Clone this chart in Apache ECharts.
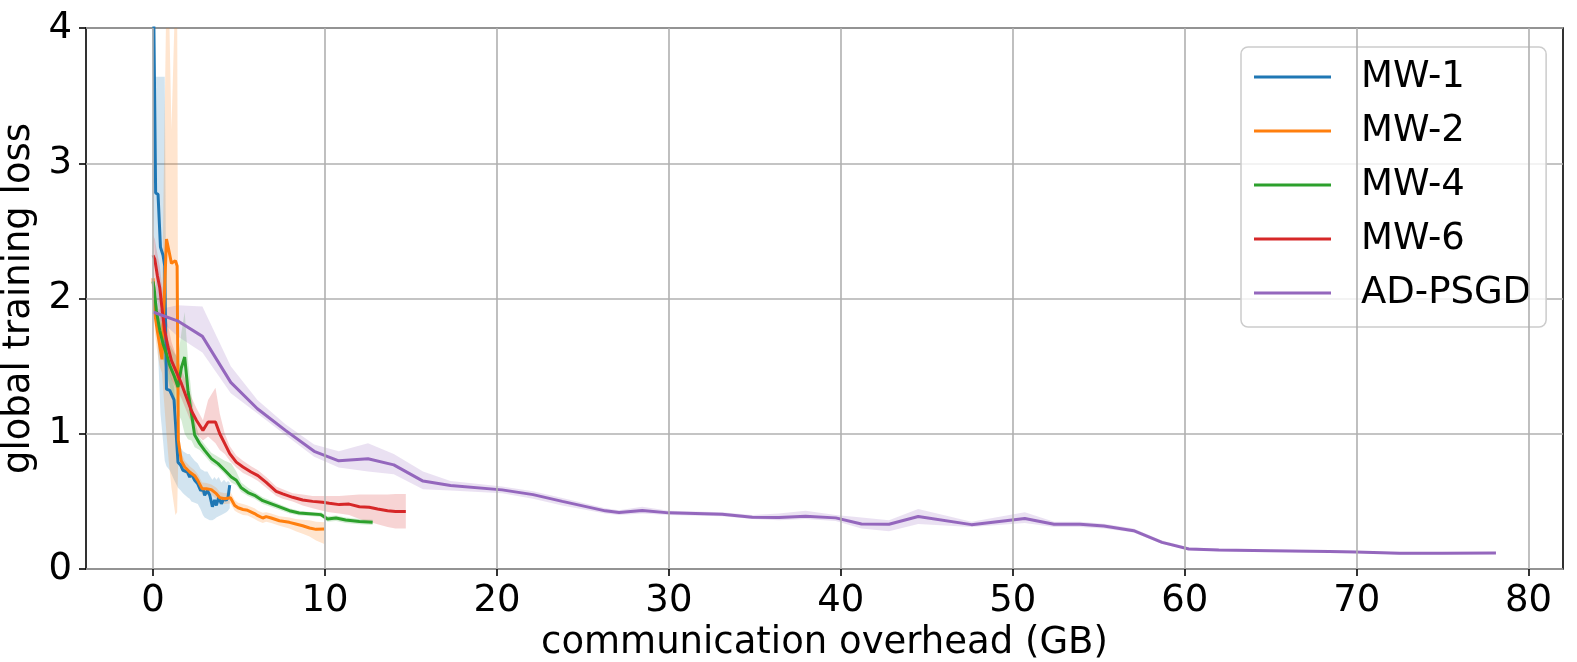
<!DOCTYPE html>
<html>
<head>
<meta charset="utf-8">
<script src="https://cdn.jsdelivr.net/npm/echarts@6/dist/echarts.min.js"></script>
<style>
  html, body { margin: 0; padding: 0; background: #fff; }
  #chart { width: 1577px; height: 662px; }
</style>
</head>
<body>
<div id="chart"></div>
<script>
// tick labels
const xTicks = [0, 10, 20, 30, 40, 50, 60, 70, 80];
const yTicks = [0, 1, 2, 3, 4];

// MW-1
const mw1X = [0, 0.15, 0.29, 0.43, 0.58, 0.68, 0.78, 0.97, 1.22, 1.45, 1.61, 1.74, 2.0, 2.13, 2.23, 2.42, 2.6, 2.77, 2.9, 3.0, 3.16, 3.3, 3.45, 3.58, 3.68, 3.82, 3.97, 4.13, 4.26, 4.36, 4.46];
const mw1Y = [4.6, 2.78, 2.77, 2.38, 2.32, 2.24, 1.33, 1.32, 1.25, 0.79, 0.767, 0.73, 0.717, 0.68, 0.705, 0.656, 0.63, 0.58, 0.594, 0.545, 0.58, 0.545, 0.46, 0.51, 0.47, 0.53, 0.483, 0.52, 0.508, 0.53, 0.62];
const mw1Hi = [3.64, 3.64, 3.64, 3.64, 3.64, 3.64, 1.6, 1.45, 1.35, 0.95, 0.9, 0.87, 0.85, 0.85, 0.83, 0.8, 0.78, 0.74, 0.73, 0.72, 0.72, 0.69, 0.66, 0.68, 0.66, 0.68, 0.64, 0.66, 0.64, 0.65, 0.64];
const mw1Lo = [2.6, 2.2, 1.6, 1.15, 0.95, 0.8, 0.76, 0.73, 0.66, 0.6, 0.58, 0.56, 0.53, 0.52, 0.5, 0.49, 0.48, 0.44, 0.4, 0.38, 0.37, 0.36, 0.36, 0.37, 0.38, 0.39, 0.4, 0.41, 0.42, 0.43, 0.45];

// MW-2
const mw2X = [0, 0.1, 0.25, 0.39, 0.52, 0.78, 0.91, 1.07, 1.3, 1.4, 1.47, 1.64, 1.84, 2.13, 2.42, 2.6, 2.85, 3.1, 3.39, 3.68, 3.88, 4.17, 4.5, 4.75, 4.94, 5.23, 5.5, 5.9, 6.1, 6.38, 6.58, 6.87, 7.35, 7.93, 8.3, 8.7, 9.1, 9.48, 9.96];
const mw2Y = [2.15, 1.89, 1.76, 1.65, 1.55, 2.44, 2.36, 2.26, 2.28, 2.24, 0.95, 0.80, 0.754, 0.717, 0.69, 0.655, 0.594, 0.594, 0.587, 0.557, 0.527, 0.52, 0.527, 0.47, 0.453, 0.44, 0.434, 0.41, 0.394, 0.377, 0.387, 0.377, 0.357, 0.345, 0.333, 0.32, 0.303, 0.293, 0.296];
const mw2Hi = [2.25, 2.05, 1.95, 1.9, 1.95, 4.3, 4.3, 3.25, 4.3, 4.3, 1.05, 0.86, 0.8, 0.76, 0.73, 0.7, 0.64, 0.635, 0.625, 0.6, 0.57, 0.56, 0.57, 0.51, 0.49, 0.48, 0.47, 0.45, 0.43, 0.415, 0.42, 0.41, 0.39, 0.38, 0.37, 0.365, 0.36, 0.35, 0.345];
const mw2Lo = [2.05, 1.75, 1.6, 1.5, 1.45, 1.0, 0.8, 0.6, 0.4, 0.42, 0.85, 0.74, 0.71, 0.68, 0.65, 0.61, 0.55, 0.55, 0.55, 0.515, 0.485, 0.48, 0.485, 0.43, 0.415, 0.4, 0.395, 0.37, 0.355, 0.34, 0.35, 0.34, 0.32, 0.3, 0.28, 0.26, 0.24, 0.21, 0.185];

// MW-4
const mw4X = [0, 0.06, 0.19, 0.39, 0.58, 0.78, 0.97, 1.22, 1.45, 1.65, 1.84, 2.03, 2.23, 2.42, 2.71, 3.0, 3.39, 3.78, 4.17, 4.55, 4.84, 5.13, 5.52, 5.9, 6.38, 7.16, 7.93, 8.5, 9.28, 9.77, 10.15, 10.64, 11.2, 12.0, 12.77];
const mw4Y = [2.125, 2.08, 1.91, 1.765, 1.666, 1.59, 1.506, 1.43, 1.345, 1.49, 1.567, 1.32, 1.15, 0.99, 0.927, 0.877, 0.816, 0.779, 0.73, 0.68, 0.656, 0.6, 0.565, 0.545, 0.505, 0.468, 0.431, 0.414, 0.407, 0.402, 0.37, 0.377, 0.362, 0.352, 0.345];
const mw4Hi = [2.2, 2.15, 2.0, 1.85, 1.78, 1.72, 1.66, 1.6, 1.56, 1.75, 1.9, 1.55, 1.3, 1.1, 0.97, 0.92, 0.86, 0.83, 0.8, 0.78, 0.72, 0.64, 0.6, 0.57, 0.53, 0.49, 0.45, 0.43, 0.42, 0.42, 0.39, 0.395, 0.38, 0.37, 0.365];
const mw4Lo = [2.05, 2.0, 1.8, 1.65, 1.55, 1.45, 1.35, 1.25, 1.15, 1.1, 1.0, 0.96, 0.95, 0.9, 0.88, 0.84, 0.78, 0.75, 0.7, 0.64, 0.62, 0.57, 0.54, 0.52, 0.48, 0.445, 0.41, 0.395, 0.39, 0.385, 0.35, 0.355, 0.34, 0.33, 0.325];

// MW-6
const mw6X = [0, 0.1, 0.25, 0.39, 0.5, 0.68, 0.87, 1.07, 1.36, 1.65, 1.94, 2.23, 2.52, 2.9, 3.2, 3.63, 3.88, 4.17, 4.46, 4.84, 5.23, 5.7, 6.1, 6.58, 7.16, 7.54, 8.12, 8.7, 9.28, 9.86, 10.25, 10.83, 11.4, 12.0, 12.57, 13.06, 13.64, 14.1, 14.7];
const mw6Y = [2.32, 2.29, 2.17, 2.08, 1.95, 1.76, 1.64, 1.54, 1.456, 1.37, 1.27, 1.17, 1.1, 1.025, 1.087, 1.087, 1.0, 0.927, 0.853, 0.79, 0.754, 0.717, 0.69, 0.64, 0.574, 0.555, 0.53, 0.51, 0.5, 0.493, 0.486, 0.476, 0.48, 0.46, 0.456, 0.444, 0.431, 0.426, 0.426];
const mw6Hi = [2.47, 2.44, 2.33, 2.24, 2.12, 1.94, 1.8, 1.68, 1.57, 1.48, 1.38, 1.27, 1.19, 1.1, 1.25, 1.34, 1.15, 1.0, 0.91, 0.84, 0.8, 0.76, 0.73, 0.68, 0.61, 0.59, 0.56, 0.55, 0.54, 0.54, 0.54, 0.54, 0.545, 0.55, 0.55, 0.55, 0.55, 0.555, 0.555];
const mw6Lo = [2.15, 2.1, 1.98, 1.88, 1.75, 1.58, 1.48, 1.4, 1.33, 1.26, 1.17, 1.08, 1.0, 0.95, 0.98, 0.93, 0.88, 0.85, 0.8, 0.75, 0.71, 0.68, 0.65, 0.6, 0.54, 0.52, 0.5, 0.47, 0.45, 0.43, 0.42, 0.41, 0.4, 0.37, 0.35, 0.33, 0.31, 0.3, 0.3];

// AD-PSGD
const adX = [0, 1.42, 2.87, 4.52, 6.07, 7.7, 9.37, 10.8, 12.5, 14.0, 15.7, 17.3, 20.3, 22.1, 23.8, 26.3, 27.1, 28.45, 30, 33.1, 34.85, 36.4, 37.95, 39.7, 41.2, 42.8, 44.5, 47.6, 50.7, 52.4, 53.9, 55.3, 57.03, 58.68, 60.23, 61.98, 65, 68.4, 69.94, 72.5, 75, 78.1];
const adY = [1.90, 1.835, 1.72, 1.38, 1.185, 1.025, 0.87, 0.80, 0.815, 0.77, 0.65, 0.617, 0.585, 0.55, 0.50, 0.43, 0.417, 0.432, 0.415, 0.405, 0.383, 0.38, 0.39, 0.378, 0.333, 0.331, 0.388, 0.328, 0.373, 0.331, 0.331, 0.318, 0.283, 0.197, 0.148, 0.14, 0.135, 0.13, 0.126, 0.116, 0.117, 0.118];
const adHi = [1.91, 1.95, 1.94, 1.50, 1.25, 1.07, 0.92, 0.87, 0.93, 0.85, 0.72, 0.65, 0.61, 0.575, 0.525, 0.45, 0.435, 0.46, 0.43, 0.42, 0.4, 0.41, 0.43, 0.4, 0.38, 0.36, 0.444, 0.35, 0.42, 0.35, 0.35, 0.335, 0.3, 0.21, 0.16, 0.15, 0.143, 0.138, 0.134, 0.124, 0.124, 0.124];
const adLo = [1.89, 1.72, 1.6, 1.30, 1.15, 0.99, 0.83, 0.75, 0.72, 0.7, 0.59, 0.58, 0.56, 0.52, 0.47, 0.41, 0.4, 0.41, 0.4, 0.39, 0.37, 0.36, 0.37, 0.355, 0.3, 0.28, 0.333, 0.31, 0.34, 0.31, 0.31, 0.3, 0.27, 0.185, 0.14, 0.132, 0.127, 0.122, 0.118, 0.108, 0.11, 0.112];

const FONT = 'DejaVu Sans';
const FS = 37;
const GRID_COLOR = '#b0b0b0';

const chart = echarts.init(document.getElementById('chart'));

function pairs(xs, ys) {
    return xs.map((x, i) => [x, ys[i]]);
}

// shaded band between lo and hi, drawn as one polygon
function bandSeries(xs, lo, hi, fill) {
    return {
        type: 'custom',
        silent: true,
        clip: true,
        z: 1,
        data: xs.map((x, i) => [x, lo[i], hi[i]]),
        encode: { x: 0, y: [1, 2] },
        renderItem: function (params, api) {
            if (params.dataIndex !== 0) return null;
            const pts = [];
            for (let i = 0; i < xs.length; i++) pts.push(api.coord([xs[i], hi[i]]));
            for (let i = xs.length - 1; i >= 0; i--) pts.push(api.coord([xs[i], lo[i]]));
            const cs = params.coordSys;
            return {
                type: 'polygon',
                shape: { points: pts },
                style: { fill: fill, stroke: null },
                clipPath: { type: 'rect', shape: { x: cs.x, y: cs.y, width: cs.width, height: cs.height } }
            };
        }
    };
}

function lineSeries(name, xs, ys, color) {
    return {
        name: name,
        type: 'line',
        data: pairs(xs, ys),
        showSymbol: false,
        symbol: 'none',
        clip: true,
        z: 3,
        lineStyle: { width: 3, color: color },
        itemStyle: { color: color }
    };
}

const series = [
    // vertical grid lines
    {
        type: 'line',
        data: [],
        z: 2,
        silent: true,
        markLine: {
            silent: true,
            symbol: 'none',
            animation: false,
            label: { show: false },
            lineStyle: { color: GRID_COLOR, width: 1.6, type: 'solid' },
            data: xTicks.map(v => ({ xAxis: v }))
        }
    },
    bandSeries(mw1X, mw1Lo, mw1Hi, 'rgba(31,119,180,0.2)'),
    bandSeries(mw2X, mw2Lo, mw2Hi, 'rgba(255,127,14,0.2)'),
    bandSeries(mw4X, mw4Lo, mw4Hi, 'rgba(44,160,44,0.2)'),
    bandSeries(mw6X, mw6Lo, mw6Hi, 'rgba(214,39,40,0.2)'),
    bandSeries(adX, adLo, adHi, 'rgba(148,103,189,0.2)'),
    lineSeries('MW-1', mw1X, mw1Y, '#1f77b4'),
    lineSeries('MW-2', mw2X, mw2Y, '#ff7f0e'),
    lineSeries('MW-4', mw4X, mw4Y, '#2ca02c'),
    lineSeries('MW-6', mw6X, mw6Y, '#d62728'),
    lineSeries('AD-PSGD', adX, adY, '#9467bd')
];

chart.setOption({
    animation: false,
    backgroundColor: '#fff',
    grid: {
        left: 86, top: 28, width: 1477, height: 541,
        outerBoundsMode: 'none',
        containLabel: false,
        show: true, borderColor: '#000', borderWidth: 1.6, backgroundColor: 'transparent'
    },
    legend: {
        data: ['MW-1', 'MW-2', 'MW-4', 'MW-6', 'AD-PSGD'],
        orient: 'vertical',
        left: 1241, top: 47,
        padding: [8, 15, 12, 13],
        icon: 'rect',
        itemWidth: 77, itemHeight: 3,
        itemGap: 10,
        textStyle: { fontFamily: FONT, fontSize: FS, color: '#000', lineHeight: 44, padding: [0, 0, 0, 25] },
        backgroundColor: 'rgba(255,255,255,0.8)',
        borderColor: '#cccccc', borderWidth: 1.5, borderRadius: 7
    },
    xAxis: {
        type: 'value',
        min: -3.9, max: 82,
        axisLine: { show: false, onZero: false },
        splitLine: { show: false },
        axisTick: { show: true, customValues: xTicks, length: 7, lineStyle: { color: '#000', width: 1.6 } },
        axisLabel: { customValues: xTicks, fontFamily: FONT, fontSize: FS, color: '#000', margin: 14 },
        name: 'communication overhead (GB)',
        nameLocation: 'middle',
        nameGap: 52,
        nameTextStyle: { fontFamily: FONT, fontSize: FS, color: '#000' }
    },
    yAxis: {
        type: 'value',
        min: yTicks[0], max: yTicks[yTicks.length - 1], interval: 1,
        axisLine: { show: false, onZero: false },
        splitLine: { show: true, lineStyle: { color: GRID_COLOR, width: 1.6 } },
        axisTick: { show: true, length: 7, lineStyle: { color: '#000', width: 1.6 } },
        axisLabel: { fontFamily: FONT, fontSize: FS, color: '#000', margin: 14 },
        name: 'global training loss',
        nameLocation: 'middle',
        nameRotate: 90,
        nameGap: 35,
        nameTextStyle: { fontFamily: FONT, fontSize: FS, color: '#000' }
    },
    series: series
});
</script>
</body>
</html>
